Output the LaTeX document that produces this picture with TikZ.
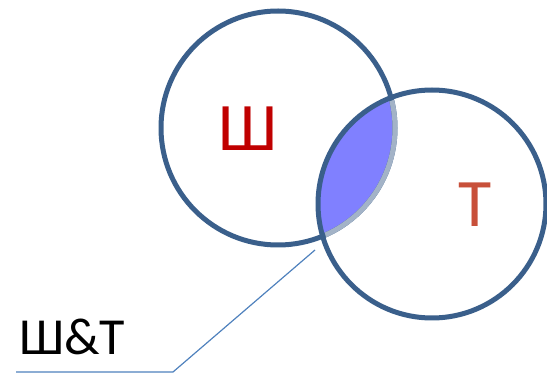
\documentclass[tikz,border=0pt]{standalone}
\usepackage{fontspec}
\setmainfont{Carlito}
\usepackage{tikz}
\definecolor{ring}{HTML}{3A5F8B}
\definecolor{ringlight}{HTML}{A3B3C7}
\definecolor{lens}{HTML}{8080FF}
\definecolor{setw}{HTML}{C00000}
\definecolor{sett}{HTML}{C8503A}
\definecolor{lead}{HTML}{4F81BD}

\begin{document}
\begin{tikzpicture}[x=1pt, y=-1pt, every node/.style={inner sep=0pt},
  ring/.style={circle, draw=ring, line width=5pt}]
  \useasboundingbox (0,0) rectangle (547,374);
  \begin{scope}
    \clip (278,128) circle (117);
    \fill[lens] (432,204) circle (114);
  \end{scope}
  \node[ring, minimum size=234pt] (A) at (278,128) {};
  \node[ring, minimum size=228pt] (B) at (432,204) {};
  \begin{scope}
    \clip (432,204) circle (111);
    \draw[ringlight, line width=5pt] (278,128) circle (117);
  \end{scope}
  \node[text=setw, font=\fontsize{68}{68}\selectfont] (w) at (248,129) {Ш};
  \node[text=sett, font=\fontsize{68}{68}\selectfont] (t) at (475,205) {Т};
  \node[anchor=base west, font=\fontsize{52}{52}\selectfont] (lbl) at (19,355) {Ш\&Т};
  \coordinate (bend) at (173,372);
  \coordinate (tip) at (315,250);
  \draw[lead, line width=1.2pt] (16,372) -- (bend) -- (tip);
\end{tikzpicture}
\end{document}
